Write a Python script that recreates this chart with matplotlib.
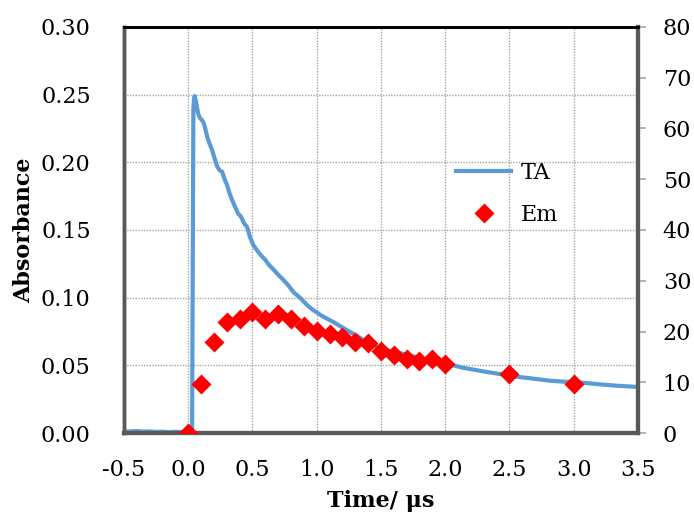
import matplotlib
matplotlib.use('Agg')
import matplotlib.pyplot as plt

plt.rcParams['font.family'] = ['DejaVu Serif']

# transient absorption trace (time in us, absorbance)
ta_time = [-0.5, -0.45, -0.4, -0.35, -0.3, -0.25, -0.2, -0.15, -0.1, -0.05, 0.0, 0.02, 0.03,
           0.04, 0.045, 0.05, 0.06, 0.077, 0.09, 0.116, 0.13, 0.147, 0.165, 0.186, 0.205,
           0.225, 0.245, 0.264, 0.285, 0.303, 0.322, 0.342, 0.365, 0.389, 0.41, 0.435,
           0.459, 0.48, 0.506, 0.535, 0.56, 0.599, 0.63, 0.662, 0.70, 0.732, 0.78, 0.82,
           0.87, 0.92, 0.97, 1.05, 1.13, 1.2, 1.29, 1.36, 1.44, 1.52, 1.6, 1.7, 1.78, 1.9,
           2.04, 2.15, 2.3, 2.43, 2.56, 2.7, 2.82, 2.95, 3.08, 3.2, 3.34, 3.42, 3.5]
ta_abs = [0.001, 0.0012, 0.0015, 0.001, 0.0012, 0.0008, 0.001, 0.0006, 0.0009, 0.0007, 0.001,
          0.0012, 0.002, 0.24, 0.247, 0.249, 0.245, 0.236, 0.233, 0.230, 0.226, 0.219, 0.214,
          0.209, 0.203, 0.197, 0.194, 0.193, 0.187, 0.183, 0.177, 0.172, 0.167, 0.162, 0.160,
          0.155, 0.152, 0.145, 0.139, 0.135, 0.132, 0.128, 0.124, 0.121, 0.117, 0.114, 0.109,
          0.104, 0.100, 0.095, 0.091, 0.086, 0.082, 0.078, 0.073, 0.069, 0.065, 0.062, 0.060,
          0.058, 0.056, 0.053, 0.0505, 0.048, 0.0455, 0.0435, 0.0416, 0.040, 0.0386, 0.0378,
          0.0371, 0.036, 0.0349, 0.0345, 0.034]

# emission intensity (right axis)
em_time = [0.0, 0.1, 0.2, 0.3, 0.4, 0.5, 0.6, 0.7, 0.8, 0.9, 1.0, 1.1, 1.2, 1.3, 1.4,
           1.5, 1.6, 1.7, 1.8, 1.9, 2.0, 2.5, 3.0]
em_int = [0.0, 9.7, 17.9, 21.8, 22.5, 23.8, 22.5, 23.5, 22.4, 21.0, 20.1, 19.6, 19.0,
          17.9, 17.8, 16.1, 15.4, 14.5, 14.1, 14.5, 13.5, 11.6, 9.6]

fig = plt.figure(figsize=(6.94, 5.15), dpi=100)
ax = fig.add_axes([0.1787, 0.1592, 0.7403, 0.7884])
ax2 = ax.twinx()

ax.plot(ta_time, ta_abs, color='#5B9BD5', lw=3, label='TA', zorder=3)
ax2.plot(em_time, em_int, 'D', color='#FF0000', ms=10.5, mec='none', label='Em', zorder=4)

ax.set_xlim(-0.5, 3.5)
ax.set_ylim(0, 0.30)
ax2.set_ylim(0, 80)
ax.set_xticks([-0.5, 0.0, 0.5, 1.0, 1.5, 2.0, 2.5, 3.0, 3.5])
ax.set_yticks([0.0, 0.05, 0.10, 0.15, 0.20, 0.25, 0.30])
ax.set_xticklabels(['-0.5', '0.0', '0.5', '1.0', '1.5', '2.0', '2.5', '3.0', '3.5'])
ax.set_yticklabels(['0.00', '0.05', '0.10', '0.15', '0.20', '0.25', '0.30'])
ax2.set_yticks(range(0, 81, 10))

ax.grid(True, color='#a6a6a6', ls=(0, (1, 1)), lw=1)
ax.tick_params(axis='both', length=0, labelsize=16)
ax.tick_params(axis='y', pad=24)
ax.tick_params(axis='x', pad=19)
ax2.tick_params(axis='y', length=6, width=1.2, color='#a6a6a6', labelsize=16, pad=12)

for a in (ax, ax2):
    a.spines['left'].set_color('#595959')
    a.spines['left'].set_linewidth(2.5)
    a.spines['bottom'].set_color('#595959')
    a.spines['bottom'].set_linewidth(3)
    a.spines['right'].set_color('#595959')
    a.spines['right'].set_linewidth(3)
    a.spines['top'].set_color('black')
    a.spines['top'].set_linewidth(2)

ax.set_xlabel('Time/ μs', fontsize=16, fontweight='bold', labelpad=6)
ax.set_ylabel('Absorbance', fontsize=16, fontweight='bold', labelpad=4)

h1, l1 = ax.get_legend_handles_labels()
h2, l2 = ax2.get_legend_handles_labels()
ax2.legend(h1 + h2, l1 + l2, loc='upper left', bbox_to_anchor=(0.607, 0.717),
           frameon=False, fontsize=16, handlelength=2.5, labelspacing=0.9,
           handletextpad=0.4)

fig.savefig('out.png', dpi=100)
